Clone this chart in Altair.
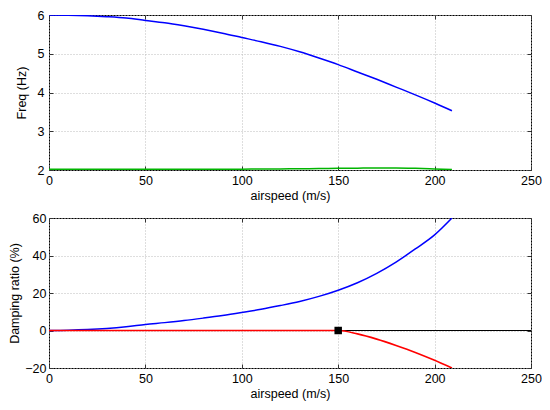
import altair as alt
import pandas as pd

speed = [0, 10, 20, 30, 40, 50, 60, 70, 80, 90, 100, 110, 120, 130, 140, 150,
         160, 170, 180, 190, 200, 209]
freq_blue = [6.00, 5.995, 5.98, 5.955, 5.92, 5.86, 5.80, 5.72, 5.63, 5.53, 5.42,
             5.31, 5.19, 5.05, 4.89, 4.72, 4.53, 4.34, 4.14, 3.94, 3.73, 3.53]
freq_green = [2.02, 2.02, 2.02, 2.02, 2.02, 2.02, 2.02, 2.02, 2.02, 2.02, 2.022,
              2.025, 2.028, 2.032, 2.037, 2.042, 2.048, 2.053, 2.052, 2.042, 2.025, 2.01]
damp_blue = [0.0, 0.15, 0.5, 1.1, 2.0, 3.2, 4.2, 5.3, 6.6, 8.0, 9.6,
             11.3, 13.3, 15.5, 18.2, 21.5, 25.5, 30.5, 36.5, 43.5, 51.0, 60.0]
damp_red = [0, 0, 0, 0, 0, 0, 0, 0, 0, 0, 0,
            0, 0, 0, 0, 0, -1.8, -4.6, -8.0, -11.7, -15.9, -20.0]
zero_line = [0]
flutter_speed = [150]
flutter_damp = [0]

x_ticks = [0, 50, 100, 150, 200, 250]
freq_ticks = [2, 3, 4, 5, 6]
damp_ticks = [-20, 0, 20, 40, 60]

df = pd.DataFrame({"speed": speed, "freq_blue": freq_blue, "freq_green": freq_green,
                   "damp_blue": damp_blue, "damp_red": damp_red})
df_zero = pd.DataFrame({"y": zero_line})
df_pt = pd.DataFrame({"speed": flutter_speed, "damp": flutter_damp})

FONT = "Liberation Sans"
FS = 12.5
TICK = 4
xscale = alt.Scale(domain=[0, 250], nice=False, zero=False)
fscale = alt.Scale(domain=[2, 6], nice=False, zero=False)
dscale = alt.Scale(domain=[-20, 60], nice=False, zero=False)


def main_axis(title, values, label_pad, title_pad):
    # ticks drawn inward: axis shifted inside by TICK px, ticks reach the frame
    return alt.Axis(title=title, values=values, grid=True, ticks=True, tickSize=TICK,
                    tickColor="#333333", tickWidth=1, offset=-TICK, domain=False,
                    labelPadding=label_pad, titlePadding=title_pad, labelOverlap=False,
                    labelFlush=False, labelFont=FONT, titleFont=FONT,
                    labelFontSize=FS, titleFontSize=FS,
                    labelColor="black", titleColor="black", titleFontWeight="normal",
                    gridColor="#bdbdbd", gridDash=[1, 2], gridWidth=1)


def tick_axis(orient, values):
    return alt.Axis(orient=orient, values=values, title=None, labels=False, grid=False,
                    ticks=True, tickSize=TICK, tickColor="#333333", tickWidth=1,
                    offset=-TICK, domain=False)


top_blue = alt.Chart(df).mark_line(color="#0000ff", strokeWidth=1.5, clip=True,
                                   interpolate="monotone").encode(
    x=alt.X("speed:Q", scale=xscale, axis=main_axis("airspeed (m/s)", x_ticks, 4, 3)),
    y=alt.Y("freq_blue:Q", scale=fscale, axis=main_axis("Freq (Hz)", freq_ticks, 5, 9)),
)
top_green = alt.Chart(df).mark_line(color="#00b400", strokeWidth=1.5, clip=True,
                                    interpolate="monotone").encode(
    x=alt.X("speed:Q", scale=xscale, axis=tick_axis("top", x_ticks)),
    y=alt.Y("freq_green:Q", scale=fscale, axis=tick_axis("right", freq_ticks)),
)
top = alt.layer(top_blue, top_green).resolve_axis(
    x="independent", y="independent"
).properties(width=482, height=155)

bot_zero = alt.Chart(df_zero).mark_rule(color="black", strokeWidth=1).encode(
    y=alt.Y("y:Q", scale=dscale, axis=None),
)
bot_blue = alt.Chart(df).mark_line(color="#0000ff", strokeWidth=1.5, clip=True,
                                   interpolate="monotone").encode(
    x=alt.X("speed:Q", scale=xscale, axis=main_axis("airspeed (m/s)", x_ticks, 4, 3)),
    y=alt.Y("damp_blue:Q", scale=dscale,
            axis=main_axis("Damping ratio (%)", damp_ticks, 3, 3)),
)
bot_red = alt.Chart(df).mark_line(color="#ff0000", strokeWidth=1.6, clip=True,
                                  interpolate="monotone").encode(
    x=alt.X("speed:Q", scale=xscale, axis=tick_axis("top", x_ticks)),
    y=alt.Y("damp_red:Q", scale=dscale, axis=tick_axis("right", damp_ticks)),
)
bot_pt = alt.Chart(df_pt).mark_square(color="black", opacity=1, size=56, filled=True).encode(
    x=alt.X("speed:Q", scale=xscale, axis=None),
    y=alt.Y("damp:Q", scale=dscale, axis=None),
)
bottom = alt.layer(bot_zero, bot_blue, bot_red, bot_pt).resolve_axis(
    x="independent", y="independent"
).properties(width=482, height=150)

chart = alt.vconcat(top, bottom, spacing=8).properties(
    background="white",
    padding={"left": 0, "top": 0, "right": 0, "bottom": 0},
).configure_view(
    stroke="black", strokeWidth=1
)

chart.save("out.html", embed_options={"renderer": "svg", "actions": False})
